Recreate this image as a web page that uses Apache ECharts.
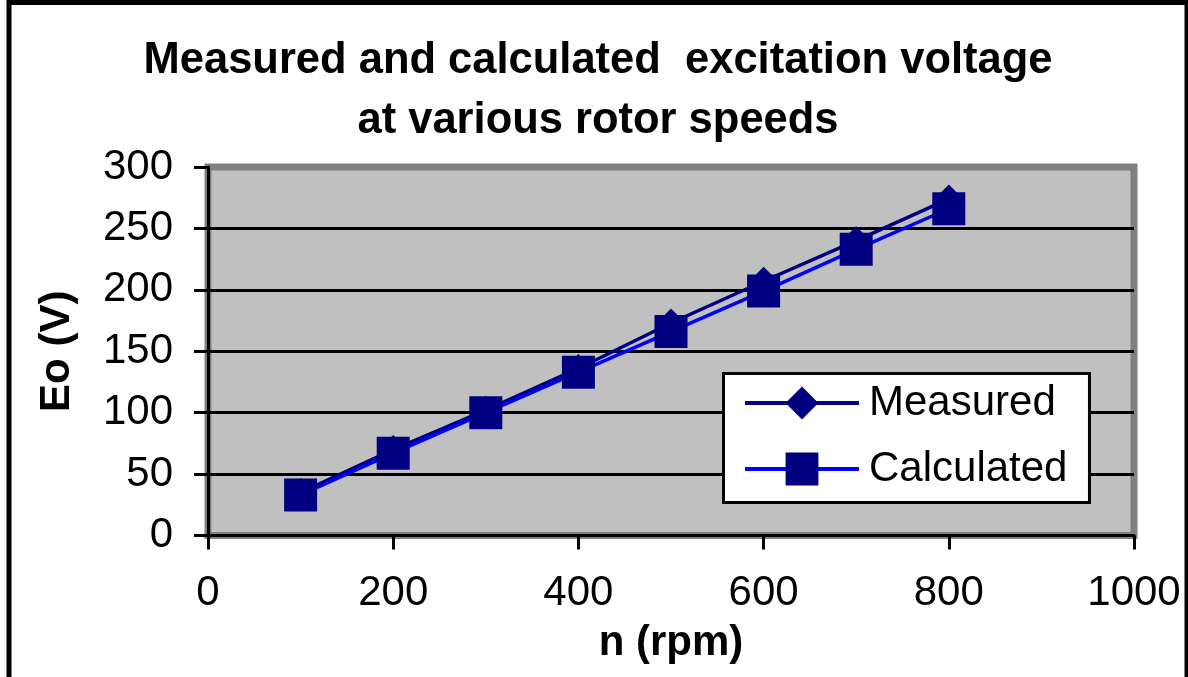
<!DOCTYPE html>
<html>
<head>
<meta charset="utf-8">
<script src="https://cdn.jsdelivr.net/npm/echarts@6/dist/echarts.min.js"></script>
<style>
  html, body { margin: 0; padding: 0; background: #ffffff; }
  #chart { width: 1188px; height: 677px; }
</style>
</head>
<body>
<div id="chart"></div>
<script>
// Rotor speed (rpm) and excitation voltage Eo (V)
const speeds = [100, 200, 300, 400, 500, 600, 700, 800];
const measured = [35, 70, 102, 136, 173, 207, 240, 274];
const calculated = [33, 67, 100, 133, 166, 199, 233, 266];
const seriesNames = ['Measured', 'Calculated'];
const titleText = 'Measured and calculated  excitation voltage\nat various rotor speeds';
const xName = 'n (rpm)';
const yName = 'Eo (V)';

const FONT = '"Liberation Sans", Arial, sans-serif';

const toPairs = (xs, ys) => xs.map((x, i) => [x, ys[i]]);

const chart = echarts.init(document.getElementById('chart'), null, { renderer: 'canvas' });

chart.setOption({
  animation: false,
  backgroundColor: '#ffffff',
  title: {
    text: titleText,
    left: 598,
    top: 31,
    padding: 0,
    textAlign: 'center',
    textStyle: {
      fontFamily: FONT,
      fontSize: 43.5,
      fontWeight: 'bold',
      color: '#000000',
      lineHeight: 60
    }
  },
  graphic: [{
    type: 'rect',
    silent: true,
    z: 100,
    shape: { x: 9, y: 2.5, width: 1178, height: 720 },
    style: { fill: 'none', stroke: '#000000', lineWidth: 5 }
  }],
  grid: {
    left: 208,
    right: 54,
    top: 167,
    bottom: 141.5,
    show: true,
    backgroundColor: '#C0C0C0',
    borderColor: '#808080',
    borderWidth: 7
  },
  xAxis: {
    type: 'value',
    min: 0,
    max: 1000,
    interval: 200,
    name: xName,
    nameLocation: 'middle',
    nameGap: 87,
    nameTextStyle: { fontFamily: FONT, fontSize: 42, fontWeight: 'bold', color: '#000000' },
    axisLine: { show: true, onZero: false, lineStyle: { color: '#000000', width: 3 } },
    axisTick: { show: true, inside: false, length: 14, lineStyle: { color: '#000000', width: 3 } },
    axisLabel: {
      margin: 37, fontFamily: FONT, fontSize: 42, color: '#000000',
      formatter: v => String(v)
    },
    splitLine: { show: false }
  },
  yAxis: {
    type: 'value',
    min: 0,
    max: 300,
    interval: 50,
    name: yName,
    nameLocation: 'middle',
    nameGap: 130,
    nameRotate: 90,
    nameTextStyle: { fontFamily: FONT, fontSize: 42, fontWeight: 'bold', color: '#000000' },
    axisLine: { show: true, onZero: false, lineStyle: { color: '#000000', width: 3 } },
    axisTick: { show: true, inside: false, length: 14, lineStyle: { color: '#000000', width: 3 } },
    axisLabel: {
      margin: 35, fontFamily: FONT, fontSize: 42, color: '#000000',
      formatter: v => String(v)
    },
    splitLine: { show: true, showMaxLine: false, lineStyle: { color: '#000000', width: 3 } }
  },
  legend: {
    orient: 'vertical',
    left: 723.5,
    top: 373.5,
    padding: [8.5, 22, 12.5, 19.5],
    itemWidth: 114,
    itemHeight: 41,
    itemGap: 24,
    backgroundColor: '#ffffff',
    borderColor: '#000000',
    borderWidth: 3,
    borderRadius: 0,
    lineStyle: { width: 4 },
    textStyle: { fontFamily: FONT, fontSize: 42, color: '#000000', lineHeight: 42, padding: [0, 0, 0, 5] },
    data: seriesNames
  },
  series: [
    {
      name: seriesNames[0],
      type: 'line',
      data: toPairs(speeds, measured),
      symbol: 'diamond',
      symbolSize: 29,
      showAllSymbol: true,
      itemStyle: { color: '#000080' },
      lineStyle: { color: '#000080', width: 3.5 },
      z: 2
    },
    {
      name: seriesNames[1],
      type: 'line',
      data: toPairs(speeds, calculated),
      symbol: 'rect',
      symbolSize: 33,
      showAllSymbol: true,
      itemStyle: { color: '#000080' },
      lineStyle: { color: '#0000FF', width: 3.5 },
      z: 3
    }
  ]
});
</script>
</body>
</html>
